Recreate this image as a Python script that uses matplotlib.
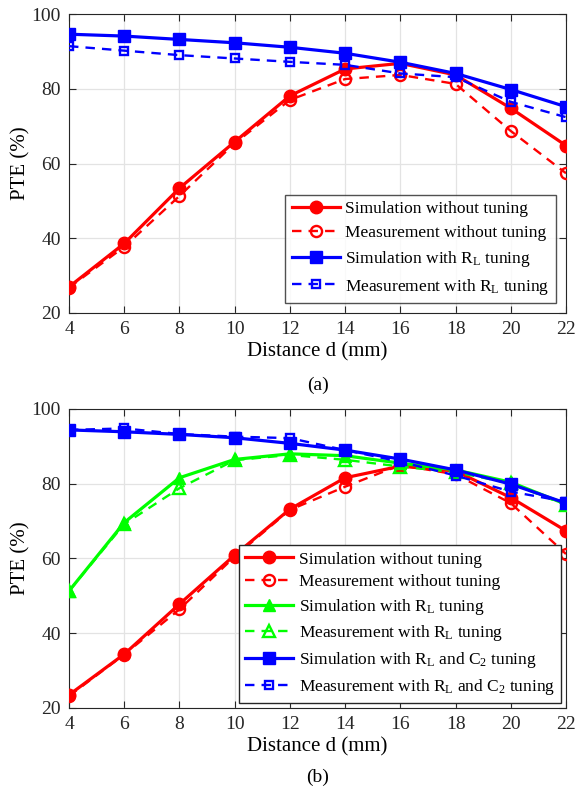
import numpy as np
import matplotlib
matplotlib.use('Agg')
import matplotlib.pyplot as plt

plt.rcParams['font.family'] = 'Liberation Serif'
plt.rcParams['mathtext.fontset'] = 'custom'
plt.rcParams['mathtext.rm'] = 'Liberation Serif'
plt.rcParams['mathtext.it'] = 'Liberation Serif:italic'

distance = [4, 6, 8, 10, 12, 14, 16, 18, 20, 22]

# (a) without tuning vs. load tuning
a_sim_none = [27.0, 38.6, 53.4, 65.8, 78.1, 85.3, 86.8, 83.7, 74.8, 64.8]
a_meas_none = [26.8, 37.7, 51.3, 65.4, 77.0, 82.6, 83.7, 81.3, 68.7, 57.4]
a_sim_rl = [94.6, 94.1, 93.2, 92.3, 91.1, 89.5, 87.1, 84.1, 79.8, 75.2]
a_meas_rl = [91.4, 90.2, 89.0, 88.1, 87.2, 86.4, 84.1, 83.1, 76.5, 72.4]

# (b) adds the R_L + C_2 case
b_sim_none = [23.5, 34.4, 47.8, 60.9, 73.2, 81.6, 84.7, 83.4, 76.3, 67.4]
b_meas_none = [23.2, 34.3, 46.4, 60.5, 73.0, 79.2, 85.0, 82.5, 74.8, 61.2]
b_sim_rl = [51.3, 69.6, 81.6, 86.5, 88.0, 87.5, 85.5, 83.7, 80.4, 74.5]
b_meas_rl = [51.3, 69.2, 78.8, 86.3, 87.7, 86.4, 84.6, 83.1, 80.1, 74.3]
b_sim_rlc2 = [94.4, 93.9, 93.2, 92.3, 90.8, 89.0, 86.6, 83.7, 79.9, 74.8]
b_meas_rlc2 = [94.4, 94.8, 93.3, 92.6, 92.2, 89.0, 85.9, 82.2, 77.9, 75.2]

lbl_sim_none = 'Simulation without tuning'
lbl_meas_none = 'Measurement without tuning'
lbl_sim_rl = r'Simulation with R$_\mathrm{L}$ tuning'
lbl_meas_rl = r'Measurement with R$_\mathrm{L}$ tuning'
lbl_sim_rlc2 = r'Simulation with R$_\mathrm{L}$ and C$_\mathrm{2}$ tuning'
lbl_meas_rlc2 = r'Measurement with R$_\mathrm{L}$ and C$_\mathrm{2}$ tuning'

RED = (1, 0, 0)
GREEN = (0, 1, 0)
BLUE = (0, 0, 1)


def sim(ax, y, color, marker, label, ms=9):
    ax.plot(distance, y, '-', color=color, lw=2.3, marker=marker, ms=ms,
            mfc=color, mec=color, label=label, zorder=3)


def meas(ax, y, color, marker, label, ms=8):
    ax.plot(distance, y, '--', color=color, lw=1.7, marker=marker, ms=ms,
            mfc='none', mec=color, mew=1.7, label=label, zorder=3,
            dashes=(4, 3))


def style(ax):
    ax.set_xlim(4, 22)
    ax.set_ylim(20, 100)
    ax.set_xticks(np.arange(4, 23, 2))
    ax.set_yticks(np.arange(20, 101, 20))
    ax.grid(True, color='#e3e3e3', lw=0.9)
    ax.set_axisbelow(True)
    ax.tick_params(direction='in', top=True, right=True, labelsize=14,
                   length=5, width=0.8, colors='#262626', pad=6)
    for s in ax.spines.values():
        s.set_color('#262626')
        s.set_linewidth(0.8)
    ax.set_xlabel('Distance d (mm)', fontsize=15, labelpad=3)
    ax.set_ylabel('PTE (%)', fontsize=15, labelpad=0.5)


fig = plt.figure(figsize=(5.76, 7.92), dpi=100)

ax1 = fig.add_axes([0.1198, 0.6048, 0.8628, 0.3775])
sim(ax1, a_sim_none, RED, 'o', lbl_sim_none)
meas(ax1, a_meas_none, RED, 'o', lbl_meas_none)
sim(ax1, a_sim_rl, BLUE, 's', lbl_sim_rl, ms=8)
meas(ax1, a_meas_rl, BLUE, 's', lbl_meas_rl, ms=6)
style(ax1)
ax1.legend(loc='lower right', fontsize=12.5, frameon=True, fancybox=False,
           edgecolor='#262626', handlelength=2.8, borderaxespad=0.6,
           labelspacing=0.45, handletextpad=0.3, borderpad=0.35)
fig.text(0.552, 1 - 385 / 792, '(a)', ha='center', va='center', fontsize=14)

ax2 = fig.add_axes([0.1198, 0.1061, 0.8628, 0.3775])
sim(ax2, b_sim_none, RED, 'o', lbl_sim_none)
meas(ax2, b_meas_none, RED, 'o', lbl_meas_none)
sim(ax2, b_sim_rl, GREEN, '^', lbl_sim_rl)
meas(ax2, b_meas_rl, GREEN, '^', lbl_meas_rl)
sim(ax2, b_sim_rlc2, BLUE, 's', lbl_sim_rlc2, ms=8)
meas(ax2, b_meas_rlc2, BLUE, 's', lbl_meas_rlc2, ms=6)
style(ax2)
ax2.legend(loc='lower right', fontsize=12.5, frameon=True, fancybox=False,
           edgecolor='#262626', handlelength=2.8, borderaxespad=0.3,
           labelspacing=0.38, handletextpad=0.3, borderpad=0.35,
           framealpha=1)
fig.text(0.552, 1 - 777 / 792, '(b)', ha='center', va='center', fontsize=14)

fig.savefig('out.png', dpi=100)
